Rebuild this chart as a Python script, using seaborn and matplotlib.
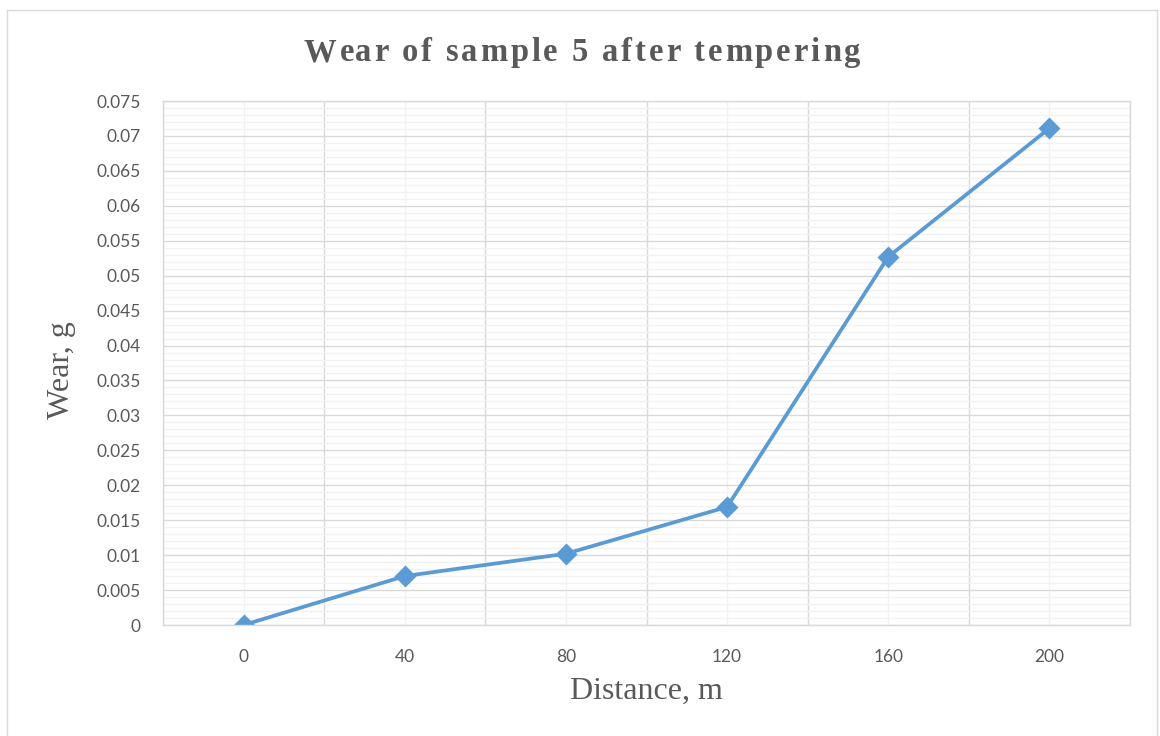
import matplotlib
matplotlib.use("Agg")
import matplotlib.pyplot as plt
from matplotlib.patches import Rectangle
from matplotlib.ticker import MultipleLocator, FixedLocator
from matplotlib.font_manager import FontProperties
import seaborn as sns
import pandas as pd

distance = ["0", "40", "80", "120", "160", "200"]
wear = [0.0, 0.0070, 0.0102, 0.0169, 0.0527, 0.0711]
y_ticks = [i * 0.005 for i in range(16)]
y_tick_labels = ["0", "0.005", "0.01", "0.015", "0.02", "0.025", "0.03", "0.035",
                 "0.04", "0.045", "0.05", "0.055", "0.06", "0.065", "0.07", "0.075"]
title = "Wear of sample 5 after tempering"

df = pd.DataFrame({"Distance": distance, "Wear": wear})

sns.set_style("white")
plt.rcParams["font.family"] = ["Lato", "DejaVu Sans"]

W, H = 1160, 736
fig = plt.figure(figsize=(W / 100, H / 100), dpi=100)
ax = fig.add_axes([163 / W, 1 - 625 / H, (1130 - 163) / W, (625 - 101) / H])

color = "#5B9BD5"
sns.pointplot(data=df, x="Distance", y="Wear", order=distance, color=color,
              markers="D", linestyles="-", ax=ax, errorbar=None,
              markersize=9.5, linewidth=2.7)

ax.set_xlim(-0.5, len(distance) - 0.5)
ax.set_ylim(0, 0.075)

ax.yaxis.set_major_locator(FixedLocator(y_ticks))
ax.set_yticklabels(y_tick_labels)
ax.yaxis.set_minor_locator(MultipleLocator(0.001))
ax.xaxis.set_major_locator(FixedLocator(range(len(distance))))
ax.set_xticklabels(distance)
ax.xaxis.set_minor_locator(FixedLocator([i - 0.5 for i in range(len(distance) + 1)]))

# gridlines
ax.grid(False)
ax.grid(which="minor", axis="y", color="#F2F2F2", linewidth=1.0)
ax.grid(which="major", axis="y", color="#D9D9D9", linewidth=1.0)
ax.grid(which="major", axis="x", color="#F2F2F2", linewidth=1.0)
ax.grid(which="minor", axis="x", color="#D9D9D9", linewidth=1.0)
ax.set_axisbelow(True)

for s in ["left", "right", "top", "bottom"]:
    ax.spines[s].set_visible(True)
    ax.spines[s].set_color("#D9D9D9")
    ax.spines[s].set_linewidth(1.0)

ax.tick_params(axis="both", which="both", length=0, labelsize=12.5, labelcolor="#595959")
ax.tick_params(axis="y", pad=16)
ax.tick_params(axis="x", pad=17.5)

ax.set_xlabel("Distance, m", fontsize=23, family="Liberation Serif", color="#595959", labelpad=8)
ax.set_ylabel("Wear, g", fontsize=23, family="Liberation Serif", color="#595959")
ax.yaxis.set_label_coords(-0.090, 0.487)

# letter-spaced title
fp = FontProperties(family="Liberation Serif", weight="bold", size=23.5)
renderer = fig.canvas.get_renderer()


def adv(s):
    w_ref, _, _ = renderer.get_text_width_height_descent("l", fp, ismath=False)
    w, _, _ = renderer.get_text_width_height_descent(s + "l", fp, ismath=False)
    return w - w_ref


natural = adv(title)
target_left, target_right = 304, 860
spacing = (target_right - target_left - natural) / (len(title) - 1)
for i, ch in enumerate(title):
    if ch == " ":
        continue
    xpix = target_left + adv(title[:i]) + i * spacing
    fig.text(xpix / W, 1 - 61 / H, ch, ha="left", va="baseline", fontproperties=fp,
             color="#595959")

fig.patches.append(Rectangle((7 / W, -0.01), (1157 - 7) / W, 1 - 10 / H + 0.01,
                             transform=fig.transFigure, fill=False, edgecolor="#D9D9D9",
                             linewidth=1.0, zorder=0))

fig.savefig("out.png", dpi=100)
